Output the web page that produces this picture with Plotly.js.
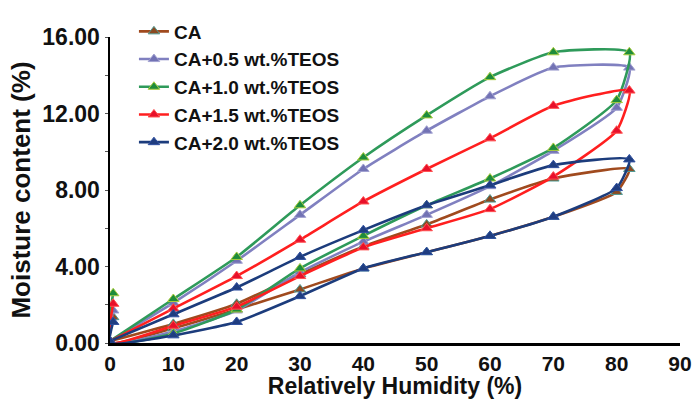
<!DOCTYPE html>
<html>
<head>
<meta charset="utf-8">
<script src="https://cdn.plot.ly/plotly-3.0.1.min.js"></script>
<style>html,body{margin:0;padding:0;background:#fff;}#chart{width:697px;height:399px;}</style>
</head>
<body>
<div id="chart"></div>
<script>
// Relative humidity sequence: initial point, adsorption 0->82, desorption 82->0
const rh = [0.5, 0, 10, 20, 30, 40, 50, 60, 70, 80, 82, 70, 60, 50, 40, 30, 20, 10, 0];

const seriesNames = ["CA", "CA+0.5 wt.%TEOS", "CA+1.0 wt.%TEOS", "CA+1.5 wt.%TEOS", "CA+2.0 wt.%TEOS"];
const ca     = [1.35, 0, 0.77, 1.75, 2.8, 3.9, 4.75, 5.6, 6.6, 7.9, 9.1, 8.6, 7.5, 6.2, 5.05, 3.6, 2.05, 1.0, 0.1];
const ca05   = [1.7, 0, 0.6, 1.7, 3.7, 5.3, 6.7, 8.2, 10.05, 12.3, 14.4, 14.4, 12.9, 11.1, 9.1, 6.7, 4.3, 2.1, 0.1];
const ca10   = [2.6, 0, 0.5, 1.75, 3.9, 5.6, 7.2, 8.6, 10.2, 12.7, 15.2, 15.2, 13.9, 11.9, 9.7, 7.2, 4.5, 2.3, 0.1];
const ca15   = [2.05, 0, 0.9, 1.9, 3.5, 5.0, 6.0, 7.0, 8.7, 11.1, 13.2, 12.4, 10.7, 9.1, 7.4, 5.4, 3.5, 1.8, 0.1];
const ca20   = [1.1, 0, 0.4, 1.1, 2.45, 3.9, 4.75, 5.6, 6.6, 8.1, 9.6, 9.3, 8.25, 7.2, 5.9, 4.5, 2.9, 1.5, 0.1];

const xTicks = [0, 10, 20, 30, 40, 50, 60, 70, 80, 90];
const yTicks = [0, 4, 8, 12, 16];

const values = [ca, ca05, ca10, ca15, ca20];
const lineColors = ["#a04a1e", "#8080c0", "#2e9a5a", "#ff1f1f", "#1c3c7c"];
const markerColors = ["#8b4a22", "#7272b4", "#1e8c3c", "#e8102a", "#1f3d80"];
const markerLines = ["#4f9a94", "#a0a0d0", "#a8cc3c", "#ff5050", "#3050a0"];

const FONT = "Liberation Sans, Arial, sans-serif";

const traces = values.map((v, i) => ({
  x: rh, y: v, name: seriesNames[i],
  type: "scatter", mode: "lines+markers",
  line: {color: lineColors[i], width: 2.6, shape: "spline", smoothing: 0.5},
  marker: {symbol: "triangle-up", size: 10, color: markerColors[i], line: {color: markerLines[i], width: 1}},
  cliponaxis: true
}));

const layout = {
  width: 697, height: 399,
  margin: {l: 110, r: 17, t: 32, b: 56},
  paper_bgcolor: "#fff", plot_bgcolor: "#fff",
  font: {family: FONT, color: "#111"},
  showlegend: true,
  legend: {x: 0.042, y: 1.08, xanchor: "left", yanchor: "top", bgcolor: "rgba(0,0,0,0)",
           font: {size: 19, family: FONT, weight: "bold", color: "#111"},
           tracegroupgap: 0, itemwidth: 30},
  xaxis: {range: [0, 90], tickvals: xTicks, ticktext: xTicks.map(String),
          showgrid: false, zeroline: false, showline: true, linecolor: "#000", linewidth: 2.5,
          ticks: "", ticklabelstandoff: 0,
          tickfont: {size: 21, family: FONT, weight: "bold", color: "#111"},
          title: {text: "Relatively Humidity (%)", standoff: 4,
                  font: {size: 23, family: FONT, weight: "bold", color: "#111"}}},
  yaxis: {range: [0, 16], tickvals: yTicks, tickformat: ".2f",
          showgrid: false, zeroline: false, showline: true, linecolor: "#000", linewidth: 2.5,
          ticks: "outside", ticklen: 3, tickcolor: "#555", tickwidth: 1,
          minor: {dtick: 2, ticks: "outside", ticklen: 3, tickcolor: "#555", tickwidth: 1, showgrid: false},
          tickfont: {size: 23, family: FONT, weight: "bold", color: "#111"},
          title: {text: "Moisture content (%)", standoff: 4,
                  font: {size: 26, family: FONT, weight: "bold", color: "#111"}}}
};

Plotly.newPlot("chart", traces, layout, {staticPlot: true});
</script>
</body>
</html>
